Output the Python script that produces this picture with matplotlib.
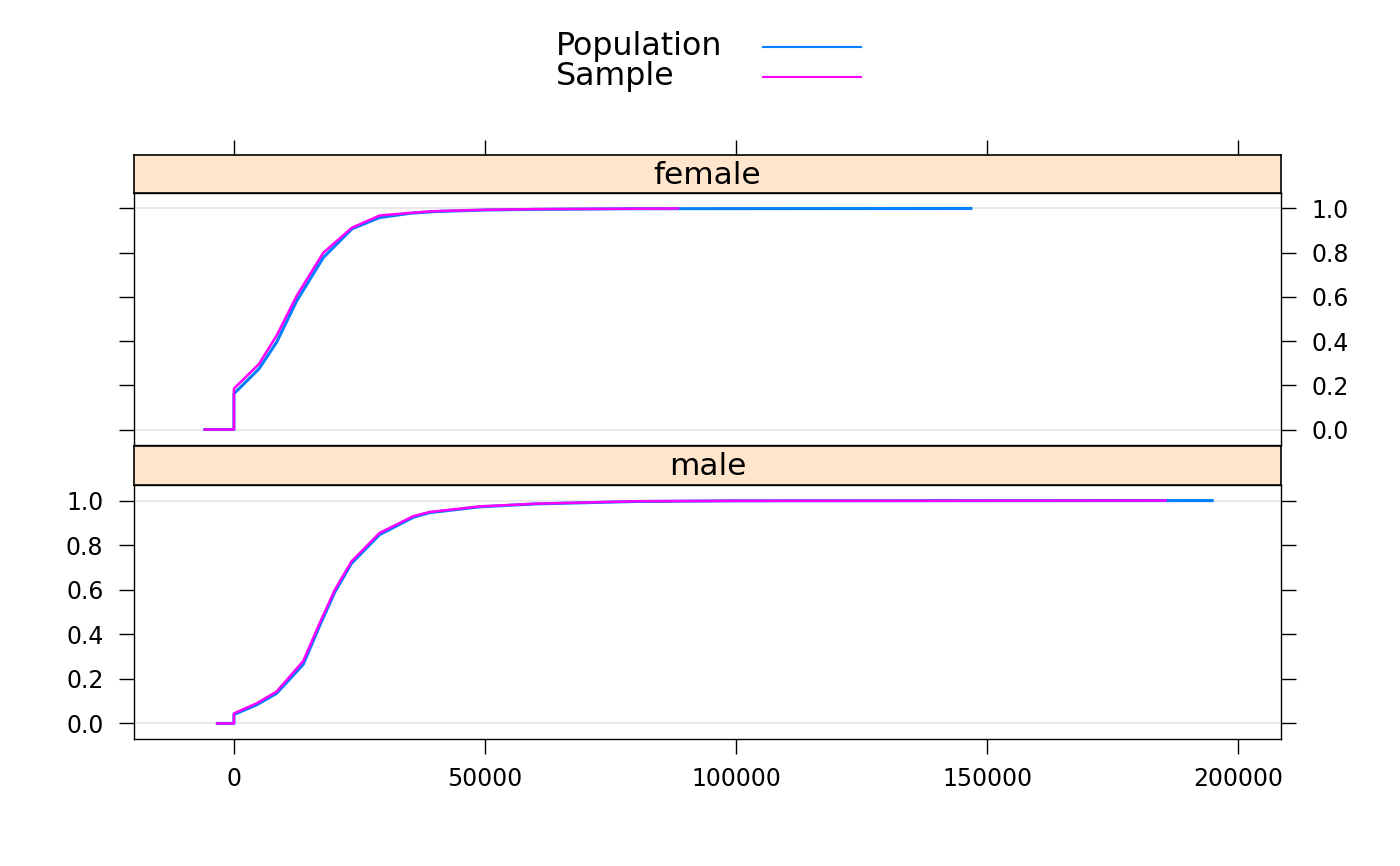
import numpy as np
import matplotlib
matplotlib.use("Agg")
import matplotlib.pyplot as plt

# ECDF knots
fem_x = [-5800, 0, 0, 5000, 8500, 12500, 17800, 23500, 29000, 35000, 40000, 50000, 60000, 80000]
fem_pop = [0, 0, 0.162, 0.275, 0.395, 0.582, 0.778, 0.908, 0.959, 0.978, 0.986, 0.993, 0.996, 0.999]
fem_smp = [0, 0, 0.185, 0.297, 0.425, 0.605, 0.800, 0.913, 0.968, 0.980, 0.988, 0.994, 0.997, 0.999]
fem_pop_end = 146750
fem_smp_end = 88450

male_x = [-3300, 0, 0, 4500, 8500, 13800, 17100, 20100, 23400, 29000, 35700, 39000, 49000, 60000, 80000, 100000]
male_pop = [0, 0, 0.040, 0.083, 0.135, 0.265, 0.440, 0.590, 0.718, 0.847, 0.925, 0.946, 0.972, 0.985, 0.996, 0.999]
male_smp = [0, 0, 0.045, 0.090, 0.143, 0.280, 0.452, 0.600, 0.727, 0.855, 0.930, 0.949, 0.974, 0.986, 0.997, 0.999]
male_pop_end = 194800
male_smp_end = 185500

x_ticks = [0, 50000, 100000, 150000, 200000]
y_ticks = [0.0, 0.2, 0.4, 0.6, 0.8, 1.0]
series = ['Population', 'Sample']
colors = ['#0080ff', '#ff00ff']

W, H = 1400, 866
fig = plt.figure(figsize=(14, 8.66), dpi=100)
plt.rcParams['font.family'] = 'DejaVu Sans'

XLIM = (-19900, 208500)
YLIM = (-0.07, 1.07)
FS = 17
TL = 11


def rect(x0, y0, x1, y1):
    # pixel box (top-left origin) -> figure fraction
    return [x0 / W, 1 - y1 / H, (x1 - x0) / W, (y1 - y0) / H]


def panel(plot_box, strip_box, name, xs, pop, smp, pop_end, smp_end, bottom):
    ax = fig.add_axes(rect(*plot_box))
    for y in (0, 1):
        ax.axhline(y, color='#e6e6e6', lw=1.2, zorder=1)
    ax.plot(list(xs) + [pop_end], list(pop) + [1.0], color=colors[0], lw=2.2, zorder=3)
    ax.plot(list(xs) + [smp_end], list(smp) + [1.0], color=colors[1], lw=1.8, zorder=4)
    ax.set_xlim(XLIM)
    ax.set_ylim(YLIM)
    ax.set_yticks(y_ticks)
    ax.set_yticklabels([f'{v:.1f}' for v in y_ticks])
    ax.set_xticks(x_ticks)
    ax.set_xticklabels([str(v) for v in x_ticks])
    ax.tick_params(axis='y', direction='out', length=TL, width=1, labelsize=FS, pad=11,
                   left=True, right=True, labelleft=bottom, labelright=not bottom)
    ax.tick_params(axis='x', direction='out', length=TL, width=1, labelsize=FS, pad=9,
                   top=False, bottom=bottom, labelbottom=bottom)
    for s in ax.spines.values():
        s.set_linewidth(1)

    sx = fig.add_axes(rect(*strip_box))
    sx.set_facecolor('#ffe5cc')
    sx.set_xlim(XLIM)
    sx.set_yticks([])
    sx.set_xticks(x_ticks if not bottom else [])
    sx.tick_params(direction='out', length=TL, width=1, top=True, bottom=False,
                   labeltop=False, labelbottom=False)
    for s in sx.spines.values():
        s.set_linewidth(1.2)
    sx.text(0.5, 0.47, name, transform=sx.transAxes, ha='center', va='center', fontsize=22.5)
    return ax


panel((134, 193, 1281, 445), (134, 155, 1281, 193), 'female',
      fem_x, fem_pop, fem_smp, fem_pop_end, fem_smp_end, bottom=False)
panel((134, 485, 1281, 739), (134, 446, 1281, 485), 'male',
      male_x, male_pop, male_smp, male_pop_end, male_smp_end, bottom=True)

# key on top
for i, (lab, col) in enumerate(zip(series, colors)):
    yk = 1 - (47 + 30 * i) / H
    fig.text(556 / W, yk, lab, fontsize=22.8, ha='left', va='center')
    fig.add_artist(plt.Line2D([763 / W, 861 / W], [yk, yk], color=col, lw=1.5,
                              transform=fig.transFigure))

fig.savefig('out.png', dpi=100)
